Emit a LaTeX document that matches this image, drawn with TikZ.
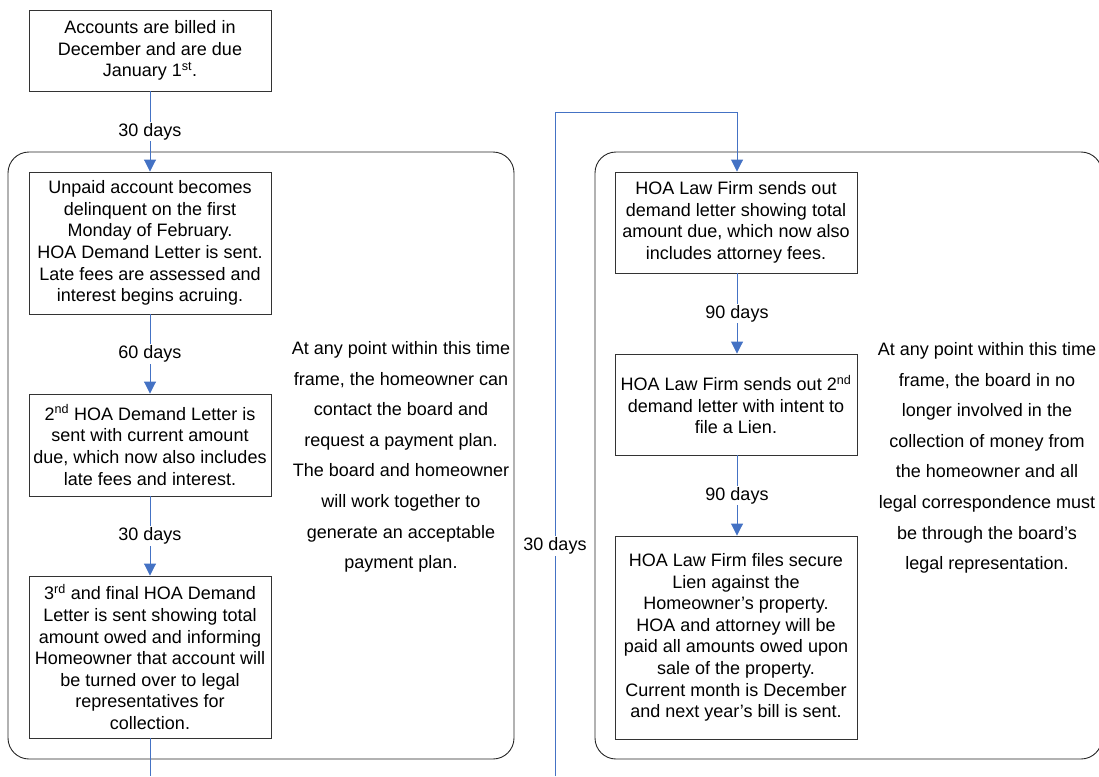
\documentclass[tikz,border=0pt]{standalone}
\usepackage{fontspec}
\setmainfont{Liberation Sans}
\usetikzlibrary{arrows.meta}
\definecolor{conblue}{HTML}{4472C4}
\begin{document}
\begin{tikzpicture}[x=1pt,y=-1pt,
  box/.style={draw=black!80, line width=0.9pt, fill=white, align=center, inner sep=0pt,
    minimum width=242pt, font=\fontsize{18}{21.6}\selectfont},
  cont/.style={draw=black!85, line width=0.9pt, rounded corners=21pt, inner sep=0pt},
  note/.style={align=center, inner sep=0pt, font=\fontsize{18}{30.6}\selectfont},
  lbl/.style={fill=white, inner sep=1.5pt, font=\fontsize{18}{21.6}\selectfont},
  conn/.style={draw=conblue, line width=0.9pt, -{Triangle[width=12pt,length=12pt]}},
  plain/.style={draw=conblue, line width=0.9pt}]
\useasboundingbox (0,0) rectangle (1099,776);
% containers
\node[cont, minimum width=506pt, minimum height=607pt] (L) at (261,455.5) {};
\node[cont, minimum width=507pt, minimum height=607pt] (R) at (848.5,455.5) {};
% boxes
\node[box, minimum height=81pt] (top) at (150,50.5) {Accounts are billed in\\December and are due\\January 1\textsuperscript{st}.};
\node[box, minimum height=142pt] (A) at (150,243) {Unpaid account becomes\\delinquent on the first\\Monday of February.\\HOA Demand Letter is sent.\\Late fees are assessed and\\interest begins acruing.};
\node[box, minimum height=102pt] (B) at (150,445) {2\textsuperscript{nd} HOA Demand Letter is\\sent with current amount\\due, which now also includes\\late fees and interest.};
\node[box, minimum height=162pt] (C) at (150,657) {3\textsuperscript{rd} and final HOA Demand\\Letter is sent showing total\\amount owed and informing\\Homeowner that account will\\be turned over to legal\\representatives for\\collection.};
\node[box, minimum height=101pt] (D) at (736,222.5) {HOA Law Firm sends out\\demand letter showing total\\amount due, which now also\\includes attorney fees.};
\node[box, minimum height=101pt] (E) at (736,404.5) {HOA Law Firm sends out 2\textsuperscript{nd}\\demand letter with intent to\\file a Lien.};
\node[box, minimum height=203pt] (F) at (736,637.5) {HOA Law Firm files secure\\Lien against the\\Homeowner’s property.\\HOA and attorney will be\\paid all amounts owed upon\\sale of the property.\\Current month is December\\and next year’s bill is sent.};
% notes
\node[note] (nL) at (401,457) {At any point within this time\\frame, the homeowner can\\contact the board and\\request a payment plan.\\The board and homeowner\\will work together to\\generate an acceptable\\payment plan.};
\node[note] (nR) at (987,458) {At any point within this time\\frame, the board in no\\longer involved in the\\collection of money from\\the homeowner and all\\legal correspondence must\\be through the board’s\\legal representation.};
% connectors
\coordinate (cend) at (150,776);
\coordinate (cbot) at (555,776);
\coordinate (ctop) at (555,112);
\draw[conn] (top.south) -- node[lbl]{30 days} (A.north);
\draw[conn] (A.south) -- node[lbl]{60 days} (B.north);
\draw[conn] (B.south) -- node[lbl]{30 days} (C.north);
\draw[plain] (C.south) -- (cend);
\draw[conn] (cbot) -- node[lbl,pos=0.346]{30 days} (ctop) -| ([xshift=1pt]D.north);
\draw[conn] ([xshift=1pt]D.south) -- node[lbl]{90 days} ([xshift=1pt]E.north);
\draw[conn] ([xshift=1pt]E.south) -- node[lbl]{90 days} ([xshift=1pt]F.north);
\end{tikzpicture}
\end{document}
